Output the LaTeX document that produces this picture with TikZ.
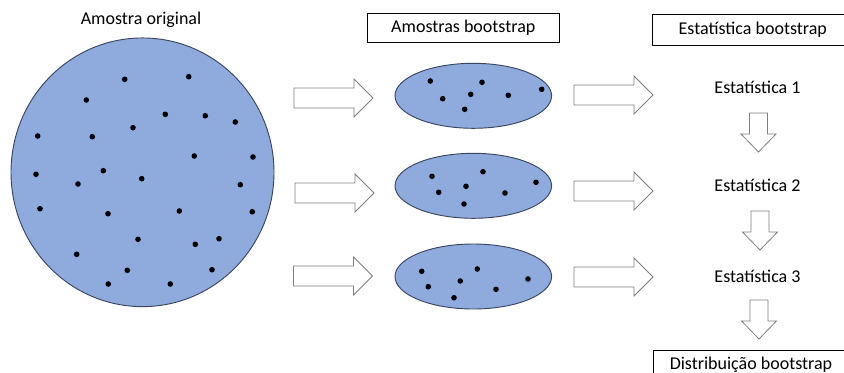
\documentclass[tikz,border=0pt]{standalone}
\usepackage{fontspec}
\setmainfont{Carlito}
\usetikzlibrary{shapes.geometric}

\definecolor{samplefill}{HTML}{8FAADC}
\definecolor{sampleedge}{HTML}{3A4660}
\definecolor{arrowedge}{HTML}{7F7F7F}

\tikzset{
  lbl/.style={font=\fontsize{13.5}{16}\selectfont, inner sep=0pt},
  titlebox/.style={draw=black, line width=0.6pt, font=\fontsize{13.5}{16}\selectfont,
                   inner sep=0pt},
  sample/.style={ellipse, draw=sampleedge, fill=samplefill, line width=0.7pt, inner sep=0pt},
  dot/.style={fill=black},
  blockarrow/.style={draw=arrowedge, fill=white, line width=0.6pt, line join=miter},
  % right-pointing block arrow, anchored at its tail centre
  rarrow/.pic={
    \draw[blockarrow] (0,-10) -- (60,-10) -- (60,-19) -- (79,0) -- (60,19)
                      -- (60,10) -- (0,10) -- cycle;
  },
  % down-pointing block arrow, anchored at its tail centre
  darrow/.pic={
    \draw[blockarrow] (-9,0) -- (-9,21) -- (-17.5,21) -- (0,39) -- (17.5,21)
                      -- (9,21) -- (9,0) -- cycle;
  },
}

\begin{document}
\begin{tikzpicture}[x=0.75pt, y=-0.75pt]
  \useasboundingbox (0,0) rectangle (844,372);
  \clip (0,0) rectangle (844,372);

  % original sample
  \node[lbl] (origtitle) at (141,20) {Amostra original};
  \node[sample, minimum width={263*0.75pt}, minimum height={268.7*0.75pt}]
        (orig) at (142.5,172.3) {};
  \foreach \p in {(124.7,79.3),(188.7,76.7),(86.3,100),(165.3,114.3),(205.3,115.7),
                  (235.3,122),(133,127.7),(37.7,136),(92.3,136.7),(194.3,156),
                  (253,157),(36,174.3),(103.3,170.7),(141.7,178.7),(78,184),
                  (240.3,184.7),(40,208.7),(108,213.7),(179.3,211),(252.3,211.7),
                  (138,239.3),(195.3,244.3),(219,238.7),(76.7,254.3),(127.3,270.3),
                  (212,269.7),(108.3,284),(170.3,284)}
    \fill[dot] \p circle[radius=2.8];

  % bootstrap samples
  \node[titlebox, minimum width={192*0.75pt}, minimum height={29.4*0.75pt}]
        (bstitle) at (463.3,28) {Amostras bootstrap};
  \foreach \n/\y in {bs1/95.8, bs2/185.8, bs3/276.5}
    \node[sample, minimum width={156.6*0.75pt}, minimum height={65*0.75pt}]
          (\n) at (473.3,\y) {};
  \foreach \p in {(430.3,81),(482,82.3),(442.7,98.7),(470.7,94.3),(508.3,95.3),
                  (541.7,89.3),(464.7,109.3),
                  (432,176.3),(483,171.7),(438.7,192.3),(466,186.3),(505,193),
                  (536,182.3),(464,204),
                  (421.7,271.3),(477.3,269),(428.3,286.7),(460.3,281),(496,289.3),
                  (528,279),(454,297.7)}
    \fill[dot] \p circle[radius=2.8];

  % resampling arrows
  \pic at (294,98) {rarrow};
  \pic at (295,193) {rarrow};
  \pic at (293.5,276) {rarrow};

  % statistics
  \node[titlebox, minimum width={200*0.75pt}, minimum height={31.7*0.75pt}]
        (sttitle) at (752.8,29.9) {Estatística bootstrap};
  \node[lbl] (st1) at (757.5,87.5) {Estatística 1};
  \node[lbl] (st2) at (757.5,185.5) {Estatística 2};
  \node[lbl] (st3) at (757.5,276) {Estatística 3};

  \pic at (574,95) {rarrow};
  \pic at (574,191) {rarrow};
  \pic at (574,277) {rarrow};

  \pic at (758.5,113) {darrow};
  \pic at (760,211) {darrow};
  \pic at (759,300) {darrow};

  % resulting distribution
  \node[titlebox, minimum width={196*0.75pt}, minimum height={28*0.75pt}]
        (dist) at (751,364.5) {Distribuição bootstrap};
\end{tikzpicture}
\end{document}
